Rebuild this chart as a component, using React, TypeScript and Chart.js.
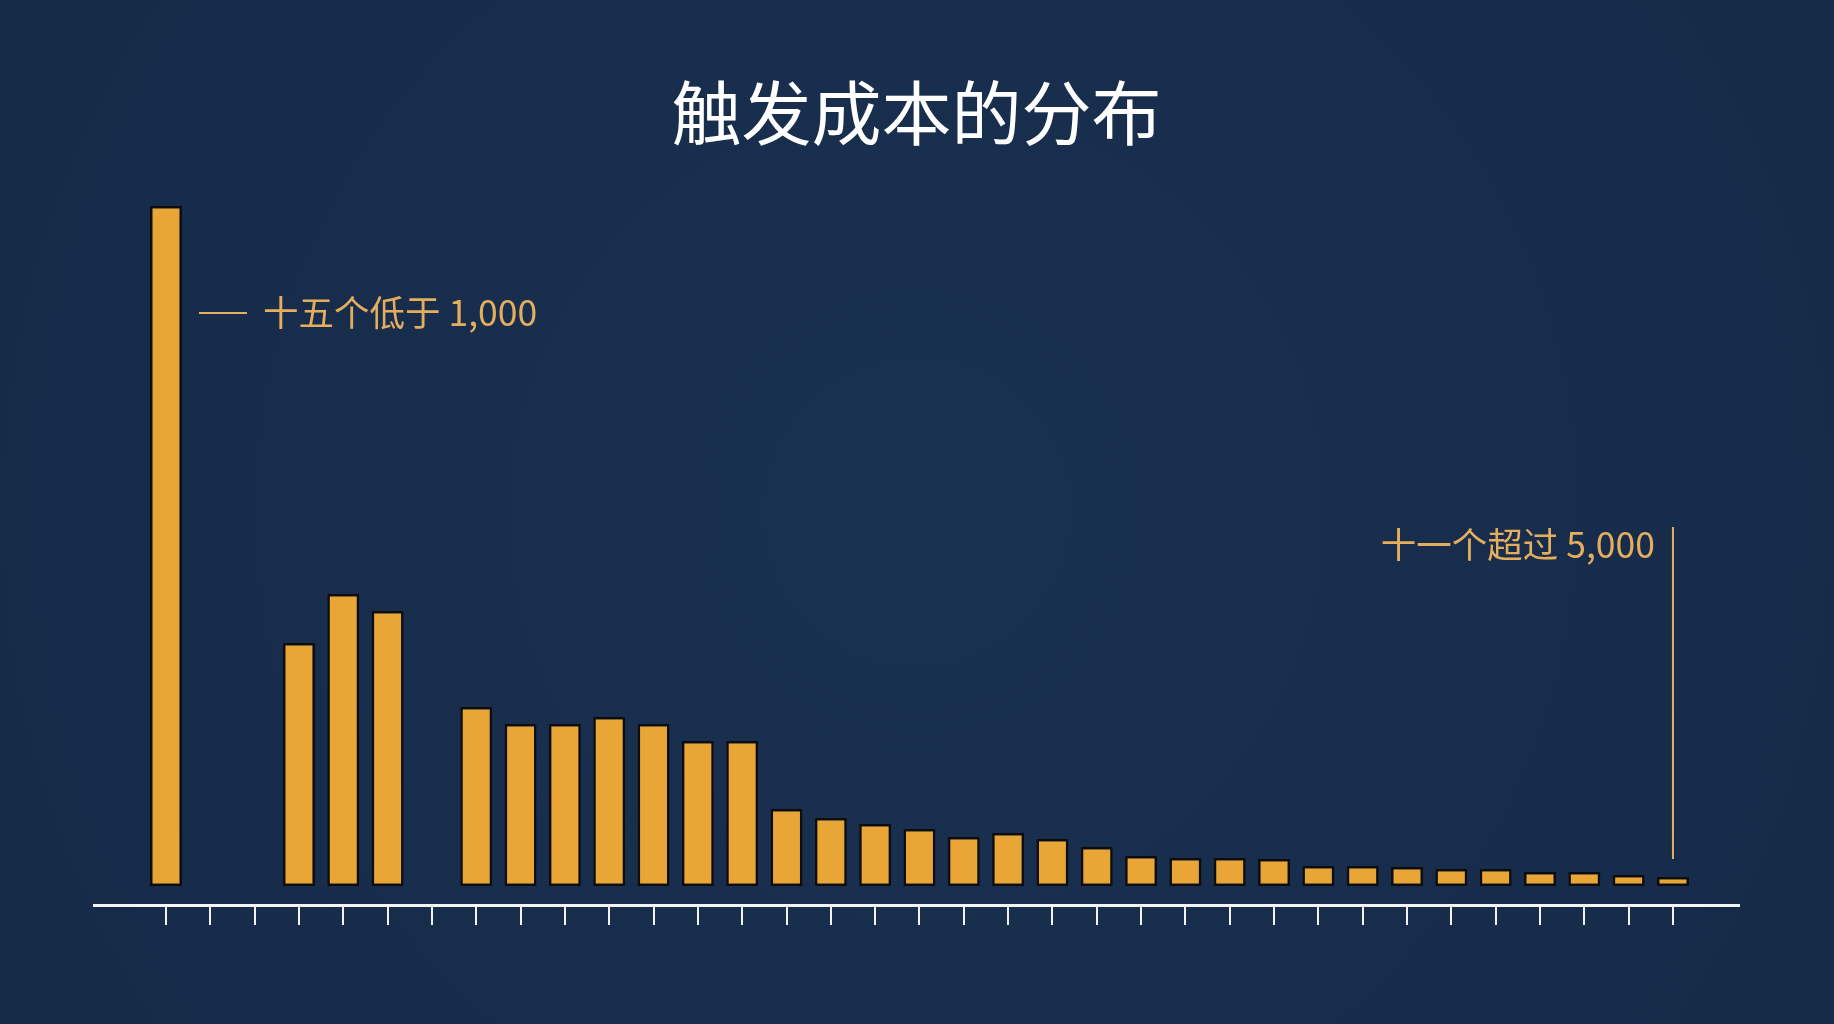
import React, { useEffect, useRef } from "react";
import { Chart, registerables } from "chart.js";

Chart.register(...registerables);

// Frequency of trigger cost per bin (relative bar heights)
const binCounts: (number | null)[] = [
  680, null, null, 243, 292, 275, null, 179, 162, 162, 169, 162, 145, 145,
  77, 68, 62, 57, 49, 53, 47, 39, 30, 28, 28, 27, 20, 20, 19, 17, 17, 14, 14,
  11, 9,
];
const binIndex: number[] = binCounts.map((_, i) => i);

const titleText = "触发成本的分布";
const lowNote = "十五个低于 1,000";
const highNote = "十一个超过 5,000";
const lowNoteLevel = 573;
const highNoteLevel = 341;
const highLineTop = 359;
const highLineBottom = 27;

const BG = "#182d4d";
const BAR = "#e9a536";
const NOTE = "#e5ae5e";

const notesPlugin = {
  id: "notes",
  afterDatasetsDraw(chart: any) {
    const { ctx } = chart;
    const xs = chart.scales.x;
    const ys = chart.scales.y;
    ctx.save();
    ctx.font = '35.5px "Noto Sans CJK SC", "Noto Sans", sans-serif';
    ctx.fillStyle = NOTE;
    ctx.strokeStyle = NOTE;
    ctx.lineWidth = 2;
    ctx.textBaseline = "middle";

    // low note next to first bar
    const x0 = xs.getPixelForValue(binIndex[0]);
    const yLow = ys.getPixelForValue(lowNoteLevel);
    ctx.beginPath();
    ctx.moveTo(x0 + 33, yLow);
    ctx.lineTo(x0 + 81, yLow);
    ctx.stroke();
    ctx.textAlign = "left";
    ctx.fillText(lowNote, x0 + 97, yLow);

    // high note above last bar
    const xl = xs.getPixelForValue(binIndex[binIndex.length - 1]);
    ctx.beginPath();
    ctx.moveTo(xl, ys.getPixelForValue(highLineTop));
    ctx.lineTo(xl, ys.getPixelForValue(highLineBottom));
    ctx.stroke();
    ctx.textAlign = "right";
    ctx.fillText(highNote, xl - 18, ys.getPixelForValue(highNoteLevel));
    ctx.restore();
  },
};

const bgPlugin = {
  id: "bg",
  beforeDraw(chart: any) {
    const { ctx, width, height } = chart;
    ctx.save();
    const g = ctx.createRadialGradient(width / 2, height / 2, 100, width / 2, height / 2, width * 0.7);
    g.addColorStop(0, "#1a3050");
    g.addColorStop(1, "#152946");
    ctx.fillStyle = g;
    ctx.fillRect(0, 0, width, height);
    ctx.restore();
  },
};

export default function App() {
  const ref = useRef<HTMLCanvasElement>(null);

  useEffect(() => {
    document.body.style.margin = "0";
    document.body.style.background = BG;
    const canvas = ref.current!;
    const chart = new Chart(canvas, {
      type: "bar",
      data: {
        datasets: [
          {
            data: binIndex.map((x, i) => ({ x, y: binCounts[i] })) as any,
            backgroundColor: BAR,
            borderColor: "#0d0d0d",
            borderWidth: 2.5,
            borderSkipped: false,
            categoryPercentage: 1,
            barPercentage: 0.72,
          },
        ],
      },
      options: {
        animation: false,
        responsive: false,
        devicePixelRatio: 1,
        layout: { padding: { left: 94, right: 95, top: 0, bottom: 99 } },
        plugins: {
          legend: { display: false },
          tooltip: { enabled: false },
          title: {
            display: true,
            text: titleText,
            color: "#ffffff",
            font: { family: '"Noto Sans CJK SC", sans-serif', size: 70, weight: "normal", lineHeight: 1.2 },
            padding: { top: 71, bottom: 45 },
          },
        },
        scales: {
          x: {
            type: "linear",
            offset: false,
            min: -1.624,
            max: 35.49,
            afterBuildTicks: (scale: any) => {
              scale.ticks = binIndex.map((v) => ({ value: v }));
            },
            ticks: { display: false },
            grid: {
              display: true,
              offset: false,
              drawOnChartArea: false,
              drawTicks: true,
              tickLength: 20,
              color: "#f2f2f2",
              lineWidth: 2,
            },
            border: { display: true, color: "#f4f4f4", width: 3 },
          },
          y: {
            display: false,
            min: -19,
            max: 686,
          },
        },
      },
      plugins: [bgPlugin, notesPlugin],
    });
    return () => chart.destroy();
  }, []);

  return (
    <div style={{ width: 1834, height: 1024, background: BG }}>
      <canvas ref={ref} width={1834} height={1024} style={{ display: "block" }} />
    </div>
  );
}
